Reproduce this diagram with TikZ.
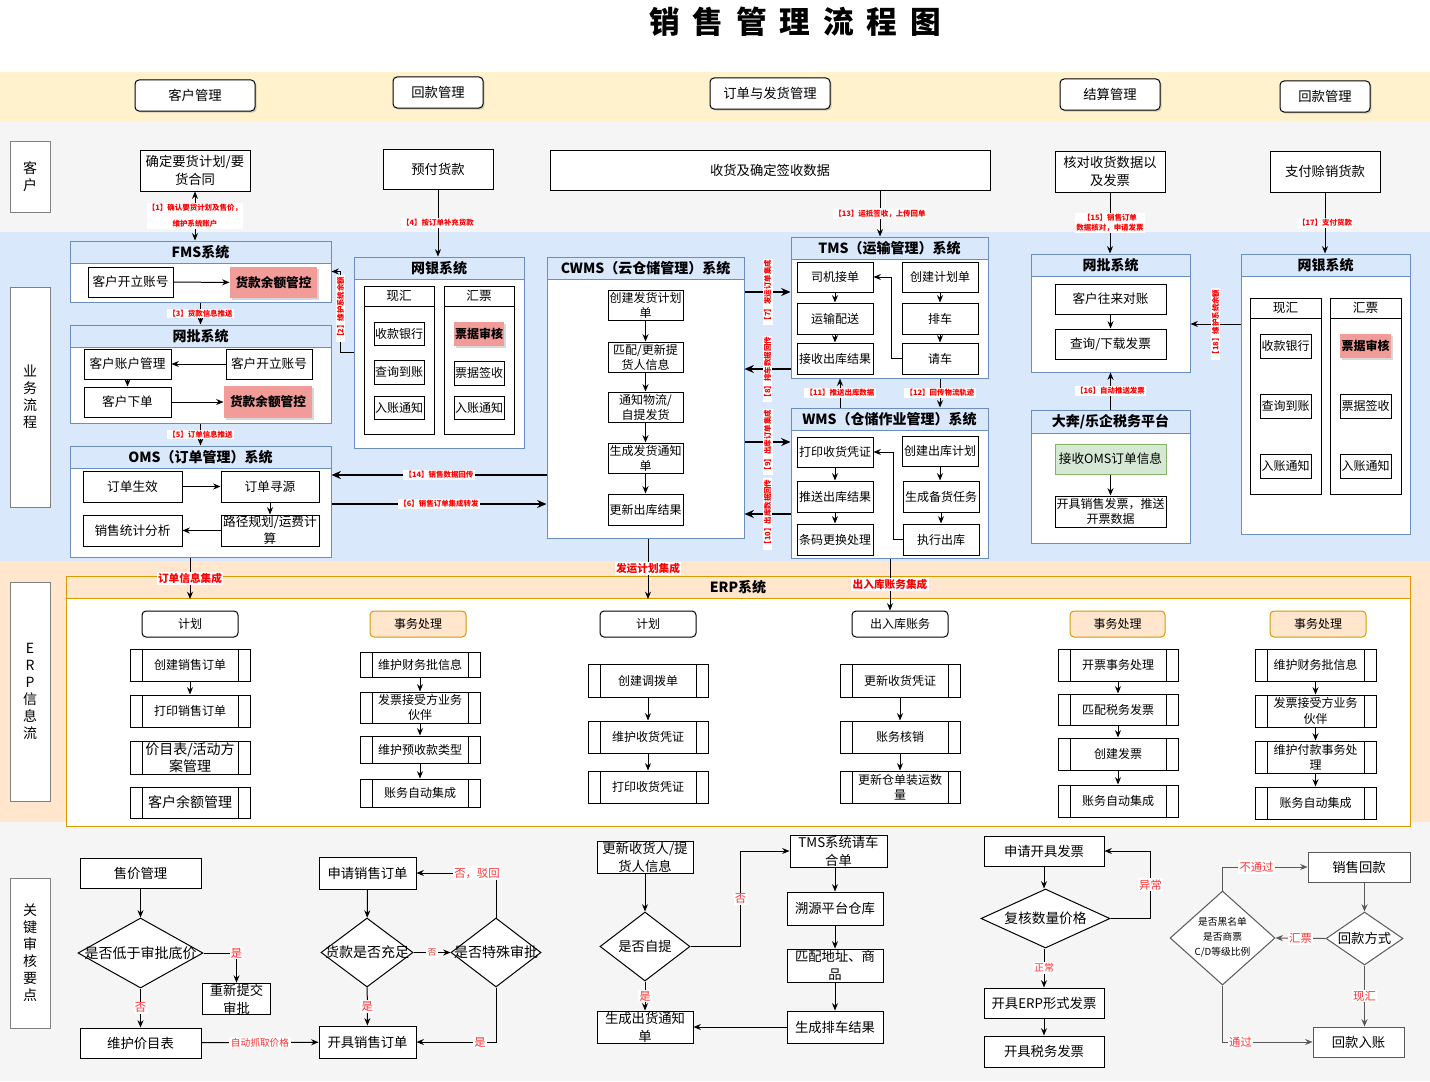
\documentclass[tikz,border=0pt]{standalone}
\usepackage{fontspec}
\setmainfont{Noto Sans CJK SC}
\usetikzlibrary{arrows.meta,shapes.geometric,shadows,positioning}

\definecolor{bandY}{HTML}{FFF2CC}
\definecolor{bandG}{HTML}{F5F5F5}
\definecolor{bandB}{HTML}{DAE8FC}
\definecolor{bandO}{HTML}{FFE6CC}
\definecolor{lineB}{HTML}{6C8EBF}
\definecolor{lineO}{HTML}{D79B00}
\definecolor{hotF}{HTML}{F19C99}
\definecolor{okF}{HTML}{D5E8D4}
\definecolor{okD}{HTML}{82B366}
\definecolor{noteR}{HTML}{FF3333}
\newcommand{\fsz}[2]{\fontsize{#1pt}{#2pt}\selectfont}

\begin{document}
\begin{tikzpicture}[x=0.75pt, y=-0.75pt,
    wh/.style 2 args={minimum width=#1*0.75pt, minimum height=#2*0.75pt},
    box/.style={draw, fill=white, line width=0.75pt, align=center,
        inner sep=0.5pt, font=\fsz{9.5}{12.5}},
    big/.style={font=\fsz{10}{13.5}},
    small/.style={font=\fsz{9}{11.2}},
    hot/.style={box, draw=none, fill=hotF, font=\bfseries\fsz{9.5}{12},
        drop shadow={shadow xshift=1.2pt, shadow yshift=-1.2pt, opacity=0.3}},
    ok/.style={box, draw=okD, fill=okF},
    proc/.style={box, font=\fsz{9}{11.5},
        path picture={\draw[line width=0.75pt]
            ([xshift=9pt]path picture bounding box.north west) -- ([xshift=9pt]path picture bounding box.south west)
            ([xshift=-9pt]path picture bounding box.north east) -- ([xshift=-9pt]path picture bounding box.south east);}},
    plan/.style={box, rounded corners=3pt, font=\fsz{9}{11}},
    job/.style={plan, draw=lineO, fill=bandO},
    btn/.style={box, rounded corners=3pt, font=\fsz{10}{12},
        drop shadow={shadow xshift=1.2pt, shadow yshift=-1.2pt, opacity=0.35}},
    lane/.style={draw=black!50, fill=white, line width=0.75pt, align=center,
        font=\fsz{10.5}{12.8}},
    sys/.style={draw=lineB, fill=white, line width=0.75pt},
    syshead/.style={draw=lineB, fill=bandB, line width=0.75pt, anchor=north,
        font=\bfseries\fsz{10.5}{12}},
    sub/.style={draw, fill=white, line width=0.75pt},
    subhead/.style={draw, fill=white, line width=0.75pt, anchor=north,
        font=\fsz{9.5}{11}},
    dec/.style={diamond, draw, fill=white, line width=0.75pt, inner sep=0pt,
        font=\fsz{10.5}{13}},
    arr/.style={-{Stealth[length=5.5pt,width=4.5pt]}, line width=0.75pt},
    arr2/.style={{Stealth[length=5.5pt,width=4.5pt]}-{Stealth[length=5.5pt,width=4.5pt]}, line width=0.75pt},
    arrG/.style={arr, draw=black!65},
    bus/.style={-{Stealth[length=7pt,width=6pt]}, line width=1.3pt},
    tag/.style={fill=white, text=red, inner sep=1pt, align=center,
        font=\bfseries\fsz{5.6}{8}},
    vtag/.style={tag, rotate=90},
    flow/.style={fill=white, text=red, inner sep=1pt, font=\bfseries\fsz{8}{10}},
    note/.style={fill=white, text=noteR, inner sep=1pt, font=\fsz{8.5}{10}}
]
\useasboundingbox (0,0) rectangle (1430,1081);

% bands
\fill[bandY] (0,72) rectangle (1430,121);
\fill[bandG] (0,121) rectangle (1430,232);
\fill[bandB] (0,232) rectangle (1430,561);
\fill[bandO] (0,561) rectangle (1430,822);
\fill[bandG] (0,822) rectangle (1430,1081);

\node[font=\bfseries\fsz{23}{28}] (title) at (795,22)
    {销\hspace{.42em}售\hspace{.42em}管\hspace{.42em}理\hspace{.42em}流\hspace{.42em}程\hspace{.42em}图};

% header buttons
\node[btn, wh={120}{31}] (hb1) at (195,95.5) {客户管理};
\node[btn, wh={90}{31}] (hb2) at (438,92.5) {回款管理};
\node[btn, wh={120}{31}] (hb3) at (770,93.5) {订单与发货管理};
\node[btn, wh={100}{31}] (hb4) at (1110,94.5) {结算管理};
\node[btn, wh={90}{31}] (hb5) at (1325,96.5) {回款管理};

% lanes
\node[lane, wh={40}{71}] (laneK) at (30,176.5) {客\\户};
\node[lane, wh={40}{220}] (laneY) at (30,397) {业\\务\\流\\程};
\node[lane, wh={40}{219}] (laneE) at (30,691.5) {E\\R\\P\\信\\息\\流};
\node[lane, wh={40}{150}] (laneG) at (30,953) {关\\键\\审\\核\\要\\点};

% customer row
\node[box, big, wh={110}{41}] (c1) at (195,170.5) {确定要货计划/要\\货合同};
\node[box, big, wh={110}{40}] (c2) at (438,169) {预付货款};
\node[box, big, wh={440}{40}] (c3) at (770,170) {收货及确定签收数据};
\node[box, big, wh={110}{41}] (c4) at (1110,171.5) {核对收货数据以\\及发票};
\node[box, big, wh={110}{41}] (c5) at (1325,171.5) {支付赊销货款};

% FMS
\node[sys, wh={261}{61}] (fms) at (200.5,271.5) {};
\node[syshead, wh={261}{20}] (fmsH) at (fms.north) {FMS系统};
\node[box, wh={85}{30}] (fms1) at (130.5,282) {客户开立账号};
\node[hot, wh={87}{31}] (fms2) at (273.5,282.5) {货款余额管控};

% wangpi left
\node[sys, wh={261}{98}] (wpL) at (200.5,374) {};
\node[syshead, wh={261}{21}] (wpLH) at (wpL.north) {网批系统};
\node[box, wh={87}{30}] (wp1) at (127.5,364) {客户账户管理};
\node[box, wh={86}{30}] (wp2) at (269,364) {客户开立账号};
\node[box, wh={87}{30}] (wp3) at (127.5,402) {客户下单};
\node[hot, wh={88}{32}] (wp4) at (268,402) {货款余额管控};

% OMS
\node[sys, wh={261}{111}] (oms) at (200.5,501.5) {};
\node[syshead, wh={261}{21}] (omsH) at (oms.north) {OMS（订单管理）系统};
\node[box, wh={99}{31}] (oms1) at (132.5,486.5) {订单生效};
\node[box, wh={98}{31}] (oms2) at (270,486.5) {订单寻源};
\node[box, wh={99}{31}] (oms3) at (132.5,530.5) {销售统计分析};
\node[box, wh={98}{31}] (oms4) at (270,530.5) {路径规划/运费计\\算};

% wangyin left
\node[sys, wh={170}{191}] (wyL) at (439,352.5) {};
\node[syshead, wh={170}{20}] (wyLH) at (wyL.north) {网银系统};
\node[sub, wh={70}{148}] (xhL) at (399,360) {};
\node[subhead, wh={70}{20}] (xhLH) at (xhL.north) {现汇};
\node[sub, wh={70}{148}] (hpL) at (479,360) {};
\node[subhead, wh={70}{20}] (hpLH) at (hpL.north) {汇票};
\node[box, small, wh={50}{23}] (xl1) at (399,333.5) {收款银行};
\node[box, small, wh={50}{24}] (xl2) at (399,372) {查询到账};
\node[box, small, wh={50}{23}] (xl3) at (399,407.5) {入账通知};
\node[hot, font=\bfseries\fsz{9}{11}, wh={50}{24}] (hl1) at (479,334) {票据审核};
\node[box, small, wh={50}{24}] (hl2) at (479,373) {票据签收};
\node[box, small, wh={50}{23}] (hl3) at (479,407.5) {入账通知};

% CWMS
\node[sys, wh={197}{281}] (cwms) at (645.5,397.5) {};
\node[syshead, wh={197}{20}] (cwmsH) at (cwms.north) {CWMS（云仓储管理）系统};
\node[box, small, wh={75}{30}] (cw1) at (645.5,305) {创建发货计划\\单};
\node[box, small, wh={75}{30}] (cw2) at (645.5,357) {匹配/更新提\\货人信息};
\node[box, small, wh={75}{30}] (cw3) at (645.5,407) {通知物流/\\自提发货};
\node[box, small, wh={75}{30}] (cw4) at (645.5,458) {生成发货通知\\单};
\node[box, small, wh={75}{31}] (cw5) at (645.5,509.5) {更新出库结果};

% TMS
\node[sys, wh={197}{141}] (tms) at (889.5,307.5) {};
\node[syshead, wh={197}{20}] (tmsH) at (tms.north) {TMS（运输管理）系统};
\node[box, small, wh={76}{30}] (t1) at (835,277) {司机接单};
\node[box, small, wh={76}{31}] (t2) at (835,318.5) {运输配送};
\node[box, small, wh={76}{31}] (t3) at (835,358.5) {接收出库结果};
\node[box, small, wh={76}{30}] (t4) at (940,277) {创建计划单};
\node[box, small, wh={76}{31}] (t5) at (940,318.5) {排车};
\node[box, small, wh={76}{31}] (t6) at (940,358.5) {请车};

% WMS
\node[sys, wh={197}{150}] (wms) at (889.5,483) {};
\node[syshead, wh={197}{21}] (wmsH) at (wms.north) {WMS（仓储作业管理）系统};
\node[box, small, wh={76}{30}] (w1) at (835,452) {打印收货凭证};
\node[box, small, wh={76}{31}] (w2) at (835,496.5) {推送出库结果};
\node[box, small, wh={76}{31}] (w3) at (835,539.5) {条码更换处理};
\node[box, small, wh={76}{30}] (w4) at (940,451) {创建出库计划};
\node[box, small, wh={76}{31}] (w5) at (941,496.5) {生成备货任务};
\node[box, small, wh={76}{31}] (w6) at (941,539.5) {执行出库};

% wangpi right
\node[sys, wh={159}{118}] (wpR) at (1110.5,313) {};
\node[syshead, wh={159}{20}] (wpRH) at (wpR.north) {网批系统};
\node[box, wh={111}{30}] (r1) at (1110.5,299) {客户往来对账};
\node[box, wh={111}{30}] (r2) at (1110.5,344) {查询/下载发票};

% tax platform
\node[sys, wh={159}{133}] (dben) at (1110.5,476.5) {};
\node[syshead, wh={159}{20}] (dbenH) at (dben.north) {大奔/乐企税务平台};
\node[ok, wh={111}{30}] (r3) at (1110.5,459) {接收OMS订单信息};
\node[box, small, wh={111}{31}] (r4) at (1110.5,511.5) {开具销售发票，推送\\开票数据};

% wangyin right
\node[sys, wh={169}{280}] (wyR) at (1325.5,394) {};
\node[syshead, wh={169}{20}] (wyRH) at (wyR.north) {网银系统};
\node[sub, wh={71}{196}] (xhR) at (1285.5,396) {};
\node[subhead, wh={71}{20}] (xhRH) at (xhR.north) {现汇};
\node[sub, wh={71}{196}] (hpR) at (1365.5,396) {};
\node[subhead, wh={71}{20}] (hpRH) at (hpR.north) {汇票};
\node[box, small, wh={51}{24}] (xr1) at (1285.5,346) {收款银行};
\node[box, small, wh={51}{24}] (xr2) at (1285.5,406) {查询到账};
\node[box, small, wh={51}{24}] (xr3) at (1285.5,466) {入账通知};
\node[hot, font=\bfseries\fsz{9}{11}, wh={51}{24}] (hr1) at (1365.5,346) {票据审核};
\node[box, small, wh={51}{24}] (hr2) at (1365.5,406) {票据签收};
\node[box, small, wh={51}{24}] (hr3) at (1365.5,466) {入账通知};

% ERP
\node[draw=lineO, fill=white, line width=0.75pt, wh={1344}{250}] (erp) at (738,701) {};
\node[draw=lineO, fill=bandO, line width=0.75pt, anchor=north, wh={1344}{20},
    font=\bfseries\fsz{10.5}{12}] (erpH) at (erp.north) {ERP系统};

\node[plan, wh={96}{26}] (pl1) at (190,624) {计划};
\node[proc, wh={120}{32}] (e11) at (190,665) {创建销售订单};
\node[proc, wh={120}{32}] (e12) at (190,711) {打印销售订单};
\node[proc, wh={120}{33}, font=\fsz{10.5}{13}] (e13) at (190,757.5) {价目表/活动方\\案管理};
\node[proc, wh={120}{31}, font=\fsz{10.5}{13}] (e14) at (190,802.5) {客户余额管理};

\node[job, wh={96}{26}] (tx2) at (418,624) {事务处理};
\node[proc, wh={120}{25}] (e21) at (420,664.5) {维护财务批信息};
\node[proc, wh={120}{31}] (e22) at (420,707.5) {发票接受方业务\\伙伴};
\node[proc, wh={120}{27}] (e23) at (420,749.5) {维护预收款类型};
\node[proc, wh={120}{28}] (e24) at (420,793) {账务自动集成};

\node[plan, wh={96}{26}] (pl3) at (648,624) {计划};
\node[proc, wh={120}{33}] (e31) at (648,680.5) {创建调拨单};
\node[proc, wh={120}{32}] (e32) at (648,737) {维护收货凭证};
\node[proc, wh={120}{32}] (e33) at (648,787) {打印收货凭证};

\node[plan, wh={96}{26}] (pl4) at (900,624) {出入库账务};
\node[proc, wh={120}{33}] (e41) at (900,680.5) {更新收货凭证};
\node[proc, wh={120}{32}] (e42) at (900,737) {账务核销};
\node[proc, wh={120}{32}] (e43) at (900,787) {更新仓单装运数\\量};

\node[job, wh={95}{26}] (tx5) at (1117.5,624) {事务处理};
\node[proc, wh={120}{32}] (e51) at (1118,665) {开票事务处理};
\node[proc, wh={120}{31}] (e52) at (1118,709.5) {匹配税务发票};
\node[proc, wh={120}{32}] (e53) at (1118,754) {创建发票};
\node[proc, wh={120}{32}] (e54) at (1118,801) {账务自动集成};

\node[job, wh={96}{26}] (tx6) at (1318,624) {事务处理};
\node[proc, wh={121}{32}] (e61) at (1315.5,665) {维护财务批信息};
\node[proc, wh={121}{32}] (e62) at (1315.5,711) {发票接受方业务\\伙伴};
\node[proc, wh={121}{32}] (e63) at (1315.5,757) {维护付款事务处\\理};
\node[proc, wh={121}{32}] (e64) at (1315.5,803) {账务自动集成};

% key checks: price and order
\node[box, big, wh={121}{30}] (k1) at (140.5,873) {售价管理};
\node[dec, wh={125}{70}] (kd1) at (140.5,953) {\makebox[0pt]{是否低于审批底价}};
\node[box, big, wh={68}{30}] (k2) at (236.5,999) {重新提交\\审批};
\node[box, big, wh={121}{30}] (k3) at (140.5,1043) {维护价目表};
\node[box, big, wh={97}{32}] (k4) at (367.5,873) {申请销售订单};
\node[dec, wh={92}{69}] (kd2) at (367,952.5) {\makebox[0pt]{货款是否充足}};
\node[dec, wh={90}{69}] (kd3) at (496,952.5) {\makebox[0pt]{是否特殊审批}};
\node[box, big, wh={97}{32}] (k5) at (367.5,1042) {开具销售订单};

% key checks: delivery
\node[box, big, wh={96}{32}] (m1) at (645,857) {更新收货人/提\\货人信息};
\node[dec, wh={90}{69}, font=\fsz{10}{12}] (md1) at (645,946.5) {\makebox[0pt]{是否自提}};
\node[box, big, wh={96}{32}] (m2) at (645,1027) {生成出货通知\\单};
\node[box, big, wh={97}{32}] (m3) at (838.5,851) {TMS系统请车\\合单};
\node[box, big, wh={96}{33}] (m4) at (835,908.5) {溯源平台仓库};
\node[box, big, wh={96}{33}] (m5) at (835,965.5) {匹配地址、商\\品};
\node[box, big, wh={96}{32}] (m6) at (835,1027) {生成排车结果};

% key checks: invoice
\node[box, big, wh={120}{30}] (n1) at (1044,851) {申请开具发票};
\node[dec, wh={129}{59}, font=\fsz{10.3}{12}] (nd1) at (1045.5,918.5) {\makebox[0pt]{复核数量价格}};
\node[box, big, wh={120}{30}] (n2) at (1044,1003) {开具ERP形式发票};
\node[box, big, wh={120}{31}] (n3) at (1044,1051.5) {开具税务发票};

% key checks: payment
\node[box, big, draw=black!65, wh={102}{30}] (o1) at (1359,867) {销售回款};
\node[dec, draw=black!65, wh={77}{53}, font=\fsz{10}{12}] (od1) at (1364.5,938.5) {\makebox[0pt]{回款方式}};
\node[dec, draw=black!65, wh={105}{94}, font=\fsz{7.3}{9}] (od2) at (1222.5,938)
    {\makebox[0pt]{\begin{tabular}{@{}c@{}}是否黑名单\\[2.5pt]是否商票\\[2.5pt]C/D等级比例\end{tabular}}};
\node[box, big, draw=black!65, wh={91}{30}] (o2) at (1358.5,1042) {回款入账};

% customer to systems
\draw[arr2] (c1.south) -- (c1 |- fms.north)
    node[tag, midway, font=\bfseries\fsz{5.6}{12}] {【1】确认要货计划及售价，\\维护系统账户};
\draw[arr] (c2.south) -- (c2 |- wyL.north) node[tag, midway] {【4】按订单补充货款};
\coordinate (x13) at (880,0);
\draw[arr] (c3.south -| x13) -- (tms.north -| x13) node[tag, midway] {【13】运抵签收，上传回单};
\draw[arr] (c4.south) -- (c4 |- wpR.north) node[tag, midway] {【15】销售订单\\数据核对，申请发票};
\draw[arr] (c5.south) -- (c5 |- wyR.north) node[tag, midway] {【17】支付货款};

% left systems
\draw[arr] (fms1) -- (fms2);
\draw[arr] (fms.south) -- (wpL.north) node[tag, midway] {【3】货款信息推送};
\draw[arr] (wp2) -- (wp1);
\draw[arr] (wp1) -- (wp3);
\draw[arr] (wp3) -- (wp4);
\draw[arr] (wpL.south) -- (oms.north) node[tag, midway] {【5】订单信息推送};
\draw[arr] (oms1) -- (oms2);
\draw[arr] (oms2) -- (oms4);
\draw[arr] (oms4) -- (oms3);
\draw[arr] (wyL.west) -- ++(-13,0) |- (fms.east) node[vtag, pos=0.27] {【2】维护系统余额};

% OMS and CWMS
\coordinate (y14) at (0,475);
\coordinate (y6) at (0,504);
\draw[bus] (cwms.west |- y14) -- (oms.east |- y14) node[tag, midway] {【14】销售数据回传};
\draw[bus] (oms.east |- y6) -- (cwms.west |- y6) node[tag, midway] {【6】销售订单集成转发};

% CWMS, TMS, WMS
\draw[arr] (cw1) -- (cw2);
\draw[arr] (cw2) -- (cw3);
\draw[arr] (cw3) -- (cw4);
\draw[arr] (cw4) -- (cw5);
\coordinate (y7) at (0,292);
\coordinate (y8) at (0,369);
\coordinate (y9) at (0,442);
\coordinate (y10) at (0,514);
\draw[bus] (cwms.east |- y7) -- (tms.west |- y7) node[vtag, midway] {【7】发运订单集成};
\draw[bus] (tms.west |- y8) -- (cwms.east |- y8) node[vtag, midway] {【8】排车数据回传};
\draw[bus] (cwms.east |- y9) -- (wms.west |- y9) node[vtag, midway] {【9】出库订单集成};
\draw[bus] (wms.west |- y10) -- (cwms.east |- y10) node[vtag, midway] {【10】出库数据回传};
\draw[arr] (t1) -- (t2);
\draw[arr] (t2) -- (t3);
\draw[arr] (t4) -- (t5);
\draw[arr] (t5) -- (t6);
\draw[arr] (t6.west) -- ++(-10,0) |- (t1.east);
\draw[arr] (w1) -- (w2);
\draw[arr] (w2) -- (w3);
\draw[arr] (w4) -- (w4 |- w5.north);
\draw[arr] (w5) -- (w6);
\draw[arr] (w6.west) -- ++(-9,0) |- (w1.east);
\coordinate (x11) at (840,0);
\draw[arr] (wms.north -| x11) -- (tms.south -| x11) node[tag, midway] {【11】推送出库数据};
\draw[arr] (tms.south -| t6) -- (wms.north -| t6) node[tag, midway] {【12】回传物流轨迹};

% right systems
\draw[arr] (r1) -- (r2);
\draw[arr] (r3) -- (r4);
\draw[arr] (dben.north) -- (wpR.south) node[tag, midway] {【16】自动推送发票};
\coordinate (y18) at (0,324);
\draw[arr] (wyR.west |- y18) -- (wpR.east |- y18) node[vtag, midway] {【18】维护系统余额};

% into ERP
\draw[arr] (oms.south -| pl1) -- (pl1 |- erpH.south) node[flow, midway] {订单信息集成};
\draw[arr] (cwms.south -| pl3) -- (pl3 |- erpH.south) node[flow, midway] {发运计划集成};
\coordinate (x20) at (890,0);
\draw[arr] (wms.south -| x20) -- (pl4.north -| x20) node[flow, midway] {出入库账务集成};

% ERP steps
\draw[arr] (e11) -- (e12);
\draw[arr] (e21) -- (e22);
\draw[arr] (e22) -- (e23);
\draw[arr] (e23) -- (e24);
\draw[arr] (e31) -- (e32);
\draw[arr] (e32) -- (e33);
\draw[arr] (e41) -- (e42);
\draw[arr] (e42) -- (e43);
\draw[arr] (e51) -- (e52);
\draw[arr] (e52) -- (e53);
\draw[arr] (e53) -- (e54);
\draw[arr] (e61) -- (e62);
\draw[arr] (e62) -- (e63);
\draw[arr] (e63) -- (e64);

% key checks connectors
\draw[arr] (k1) -- (kd1);
\draw[arr] (kd1.east) -| (k2.north) node[note, pos=0.5] {是};
\draw[arr] (kd1) -- (k3) node[note, midway] {否};
\draw[arr] (k3) -- (k5) node[note, midway, font=\fsz{7.3}{9}] {自动抓取价格};
\draw[arr] (k4) -- (kd2);
\draw[arr] (kd2) -- (kd3) node[note, midway, font=\fsz{6.5}{8}] {否};
\draw[arr] (kd2) -- (k5) node[note, midway] {是};
\draw[arr] (kd3.south) |- (k5.east) node[note, pos=0.6] {是};
\draw[arr] (kd3.north) |- (k4.east) node[note, pos=0.62] {否，驳回};

\draw[arr] (m1) -- (md1);
\draw[arr] (md1) -- (m2) node[note, midway] {是};
\draw[arr] (md1.east) -- ++(50,0) |- (m3.west) node[note, pos=0.25] {否};
\draw[arr] (m3.south -| m4) -- (m4);
\draw[arr] (m4) -- (m5);
\draw[arr] (m5) -- (m6);
\draw[arr] (m6) -- (m2);

\draw[arr] (n1) -- (n1 |- nd1.north);
\draw[arr] (nd1.east) -- ++(40,0) |- (n1.east) node[note, pos=0.25] {异常};
\draw[arr] (n1 |- nd1.south) -- (n2) node[note, midway, font=\fsz{7.5}{9}] {正常};
\draw[arr] (n2) -- (n3);

\draw[arrG] (o1.south -| od1) -- (od1.north);
\draw[arrG] (od1.west) -- (od2.east) node[note, midway] {汇票};
\draw[arrG] (od1.south) -- (od1 |- o2.north) node[note, midway] {现汇};
\draw[arrG] (od2.north) |- (o1.west) node[note, pos=0.7] {不通过};
\draw[arrG] (od2.south) |- (o2.west) node[note, pos=0.6] {通过};
\end{tikzpicture}
\end{document}
